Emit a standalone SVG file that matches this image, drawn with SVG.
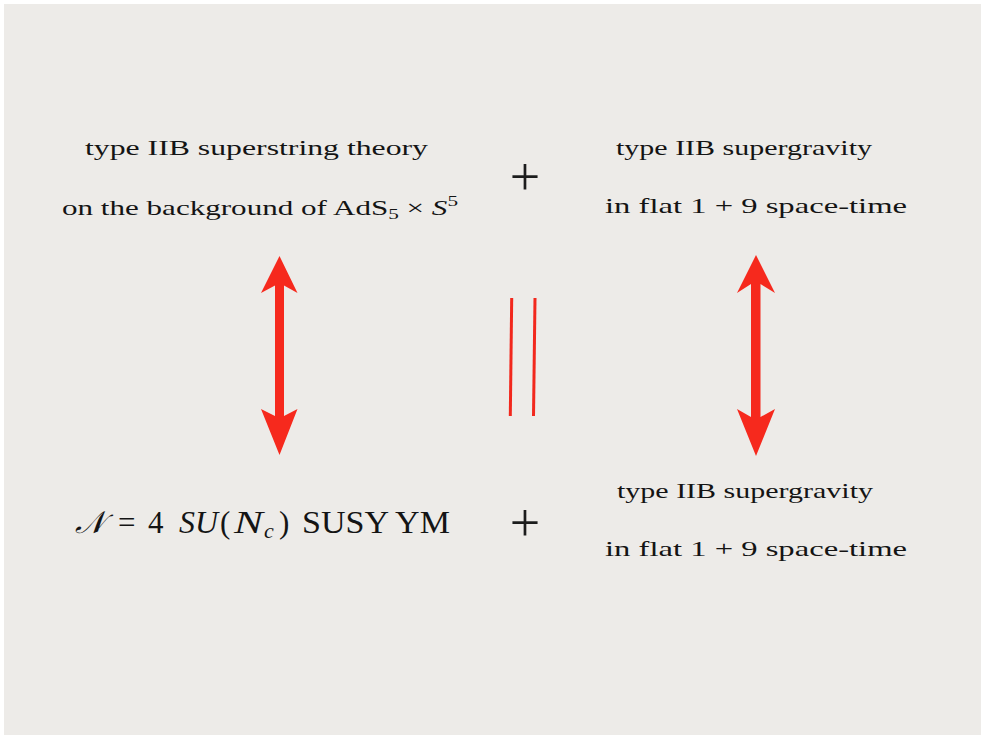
<svg xmlns="http://www.w3.org/2000/svg" width="985" height="739" viewBox="0 0 985 739">
<style>
.t{font-family:"Liberation Serif","DejaVu Serif",serif;fill:#141414;font-size:22px}
.big{font-size:31px}
.plus{font-family:"Liberation Serif",serif;fill:#1c1c1c;font-size:54px;text-anchor:middle}
.arr{fill:#f6291d}
.eq{stroke:#f2281d;stroke-width:3;fill:none}
</style>
<rect x="0" y="0" width="985" height="739" fill="#ffffff"/>
<rect x="4" y="4" width="977" height="731" fill="#edebe8"/>
<g id="node-string">
<text class="t" x="85" y="155" textLength="343" lengthAdjust="spacingAndGlyphs">type IIB superstring theory</text>
<text class="t" x="62" y="215" textLength="396" lengthAdjust="spacingAndGlyphs">on the background of AdS<tspan font-size="15" dy="4">5</tspan><tspan dy="-4"> × </tspan><tspan font-style="italic">S</tspan><tspan font-size="15" dy="-9">5</tspan></text>
</g>
<g id="plus-top"><text class="plus" x="525" y="195">+</text></g>
<g id="node-sugra-top">
<text class="t" x="616" y="155" textLength="256" lengthAdjust="spacingAndGlyphs">type IIB supergravity</text>
<text class="t" x="605" y="213" textLength="302" lengthAdjust="spacingAndGlyphs">in flat 1 + 9 space-time</text>
</g>
<g id="node-sym">
<text class="t big" x="75" y="533"><tspan font-family="DejaVu Serif,serif" font-style="italic">𝒩</tspan><tspan x="118">=</tspan><tspan x="148">4</tspan><tspan x="179" font-style="italic" textLength="39" lengthAdjust="spacingAndGlyphs">SU</tspan><tspan x="220">(</tspan><tspan x="234" font-style="italic" textLength="29" lengthAdjust="spacingAndGlyphs">N</tspan><tspan x="264" font-style="italic" font-size="22" dy="5">c</tspan><tspan x="279" dy="-5">)</tspan><tspan x="302" textLength="148" lengthAdjust="spacingAndGlyphs">SUSY YM</tspan></text>
</g>
<g id="plus-bottom"><text class="plus" x="525" y="541">+</text></g>
<g id="node-sugra-bottom">
<text class="t" x="617" y="498" textLength="256" lengthAdjust="spacingAndGlyphs">type IIB supergravity</text>
<text class="t" x="605" y="556" textLength="302" lengthAdjust="spacingAndGlyphs">in flat 1 + 9 space-time</text>
</g>
<g id="connectors">
<path class="arr" d="M279.5,256 L297.5,293 L284,285.5 L284,416 L297.5,409 L279.5,455 L261,409 L275,416 L275,285.5 L261,293 Z"/>
<path class="arr" d="M756,255 L775,293 L760.5,284 L760.5,417 L775,409 L756,456 L737,409 L751,417 L751,284 L737,293 Z"/>
<line class="eq" x1="511.7" y1="298" x2="510.3" y2="416"/>
<line class="eq" x1="535" y1="298" x2="533.5" y2="416"/>
</g>
</svg>
